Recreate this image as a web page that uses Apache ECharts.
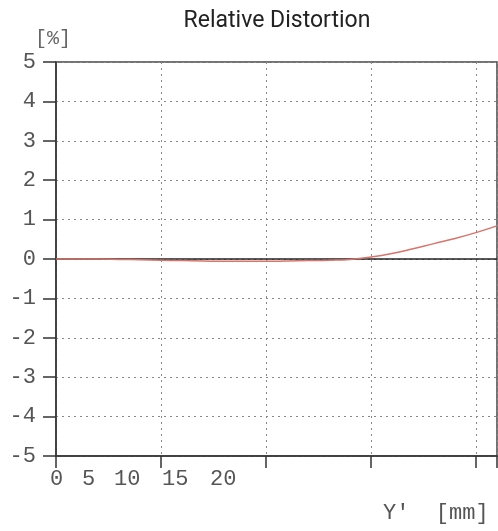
<!DOCTYPE html>
<html>
<head>
<meta charset="utf-8">
<script src="https://cdn.jsdelivr.net/npm/echarts@6/dist/echarts.min.js"></script>
<style>
  html, body { margin: 0; padding: 0; background: #fff; }
  #chart { width: 498px; height: 531px; }
</style>
</head>
<body>
<div id="chart"></div>
<script>
// image height (mm) and relative distortion (%)
const imageHeight = [0, 1, 2, 3, 4, 5, 6, 7, 8, 9, 10, 11, 12, 13, 14, 15, 16, 17, 18, 19, 20, 21];
const distortion = [0, 0, 0, -0.01, -0.02, -0.03, -0.04, -0.05, -0.06, -0.06, -0.06, -0.05, -0.04, -0.03, -0.01, 0.05, 0.14, 0.26, 0.39, 0.52, 0.67, 0.84];
const xTickLabels = ['0', '5', '10', '15', '20'];

const MONO = '"Liberation Mono", "DejaVu Sans Mono", monospace';

const chart = echarts.init(document.getElementById('chart'));

// the x tick labels are printed as one spaced-out line under the axis
const xLabelGraphics = [];
let pos = 0;
xTickLabels.forEach(function (lab) {
  xLabelGraphics.push({
    type: 'text',
    left: 50 + pos * 16,
    top: 468,
    style: { text: lab, font: '22px ' + MONO, fill: '#555' }
  });
  pos += lab.length + 1;
});

const option = {
  animation: false,
  title: {
    text: 'Relative Distortion',
    left: 272,
    top: 5,
    textAlign: 'center',
    textStyle: { fontFamily: 'Roboto', fontSize: 23, fontWeight: 'normal', color: '#222' }
  },
  grid: {
    left: 56, right: 1, top: 62, bottom: 75,
    show: true,
    borderColor: '#444',
    borderWidth: 1.5
  },
  xAxis: {
    type: 'value',
    min: 0,
    max: 21,
    interval: 5,
    axisLine: { onZero: false, lineStyle: { color: '#333', width: 1.5 } },
    axisTick: { show: true, length: 12, lineStyle: { color: '#333', width: 1.5 } },
    axisLabel: { show: false },
    splitLine: { show: true, lineStyle: { color: '#888', type: [2, 4], width: 1 } }
  },
  yAxis: {
    type: 'value',
    min: -5,
    max: 5,
    interval: 1,
    axisLine: { show: true, lineStyle: { color: '#333', width: 1.5 } },
    axisTick: { show: true, length: 13, lineStyle: { color: '#333', width: 1.5 } },
    axisLabel: { fontFamily: MONO, fontSize: 22, color: '#555', margin: 20 },
    splitLine: { show: true, lineStyle: { color: '#888', type: [2, 4], width: 1 } }
  },
  series: [{
    type: 'line',
    data: imageHeight.map(function (h, i) { return [h, distortion[i]]; }),
    smooth: true,
    showSymbol: false,
    lineStyle: { color: '#d8746c', width: 1.5 },
    z: 3,
    markLine: {
      silent: true,
      symbol: 'none',
      label: { show: false },
      lineStyle: { color: '#222', width: 1.5, type: 'solid' },
      data: [{ yAxis: 0 }],
      z: 2
    }
  }],
  graphic: [
    {
      type: 'text', left: 35, top: 29,
      style: { text: '[%]', font: '20px ' + MONO, fill: '#666' }
    },
    {
      type: 'text', left: 383, top: 502,
      style: { text: "Y'  [mm]", font: '22px ' + MONO, fill: '#555' }
    }
  ].concat(xLabelGraphics)
};

chart.setOption(option);
</script>
</body>
</html>
